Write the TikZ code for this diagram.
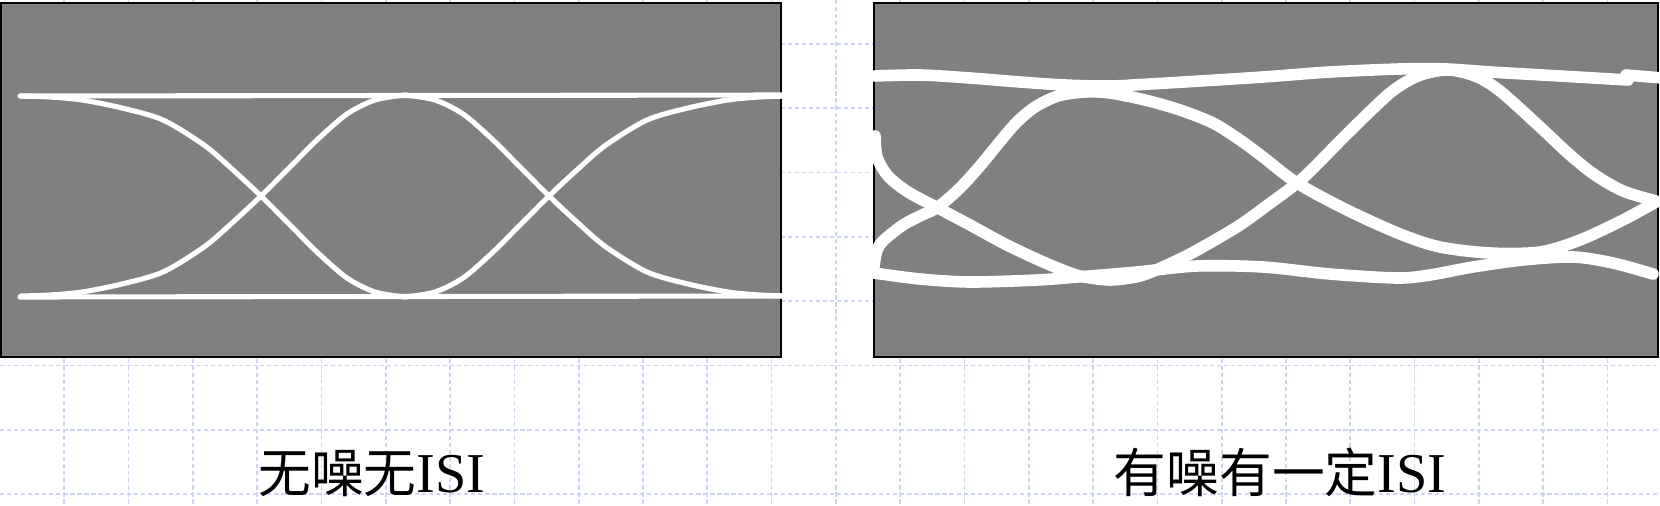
\documentclass[tikz,border=0pt]{standalone}
\usepackage{fontspec}
\setmainfont{Liberation Serif}
\newfontfamily\cjk{Noto Sans CJK SC}
\definecolor{panelgray}{RGB}{128,128,128}
\definecolor{gridblue}{RGB}{204,214,244}
\newcommand{\cleanfall}{%
  \draw[cleantrace] plot[smooth] coordinates {(21,96) (50,97) (82,100) (122,108)
    (163,120) (204,145) (232,169) (261,196) (290,225) (318,253) (347,278)
    (375,292) (405,297)};}
\begin{document}
\begin{tikzpicture}[x=0.01cm,y=-0.01cm,
    gridline/.style={draw=gridblue,line width=0.5pt,dash pattern=on 1.2pt off 0.8pt},
    panel/.style={fill=panelgray,draw=black,line width=0.6pt},
    cleantrace/.style={white,line width=1.45pt,line cap=round,line join=round},
    noisytrace/.style={white,line width=3.3pt,line cap=round,line join=round},
    caption/.style={anchor=base,inner sep=0pt,font=\fontsize{15pt}{18pt}\selectfont}]
    \useasboundingbox (0,0) rectangle (1660,506);
    % background grid
    \foreach \k in {1,...,25}
      \draw[gridline] (64.3*\k,0) -- (64.3*\k,506);
    \foreach \j in {0,...,7}
      \draw[gridline] (0,44+64.3*\j) -- (1660,44+64.3*\j);
    % left eye: no noise, no ISI
    \draw[panel] (1,3) rectangle (781,357);
    \cleanfall
    \begin{scope}[shift={(0,392)},yscale=-1]\cleanfall\end{scope}
    \begin{scope}[shift={(810,0)},xscale=-1]\cleanfall\end{scope}
    \begin{scope}[shift={(810,392)},scale=-1]\cleanfall\end{scope}
    \draw[cleantrace] (20,96) -- (791,95);
    \draw[cleantrace] (20,297) -- (791,296);
    % right eye: noise and some ISI
    \draw[panel] (874,3) rectangle (1658,357);
    \draw[noisytrace] plot[smooth] coordinates {(875,76) (920,75) (970,78) (1020,82)
      (1065,85) (1110,86) (1150,84) (1200,81) (1263,77) (1330,72) (1400,69)
      (1447,69) (1490,72) (1560,76) (1628,80)};
    \draw[noisytrace] (1626,75) -- (1662,78);
    \draw[noisytrace] plot[smooth] coordinates {(875,136) (877,157) (888,176) (908,192)
      (938,208) (970,225) (1003,243) (1030,256) (1055,267) (1080,276) (1110,280)
      (1140,276) (1165,266) (1190,254) (1215,240) (1240,225) (1265,207) (1303,178)
      (1347,134) (1390,93) (1418,76) (1447,70) (1475,76) (1500,91) (1540,127)
      (1570,155) (1595,175) (1623,191) (1656,201)};
    \draw[noisytrace] plot[smooth] coordinates {(874,266) (877,250) (884,240) (903,225)
      (920,216) (938,207) (960,188) (980,166) (998,144) (1016,123) (1035,107)
      (1058,96) (1085,92) (1110,93) (1145,100) (1180,110) (1213,123) (1240,140)
      (1263,157) (1297,183) (1347,210) (1400,234) (1440,247) (1490,253) (1540,252)
      (1580,240) (1623,220) (1656,202)};
    \draw[noisytrace] plot[smooth] coordinates {(874,273) (920,279) (970,282) (1037,280)
      (1077,277) (1137,272) (1197,266) (1263,267) (1330,274) (1397,278) (1430,275)
      (1473,267) (1523,260) (1573,257) (1613,263) (1653,274)};
    % captions
    \node[caption] (capclean) at (372,492) {{\cjk 无噪无}{\fontsize{16pt}{18pt}\selectfont ISI}};
    \node[caption] (capnoisy) at (1280,492) {{\cjk 有噪有一定}{\fontsize{16pt}{18pt}\selectfont ISI}};
\end{tikzpicture}
\end{document}
